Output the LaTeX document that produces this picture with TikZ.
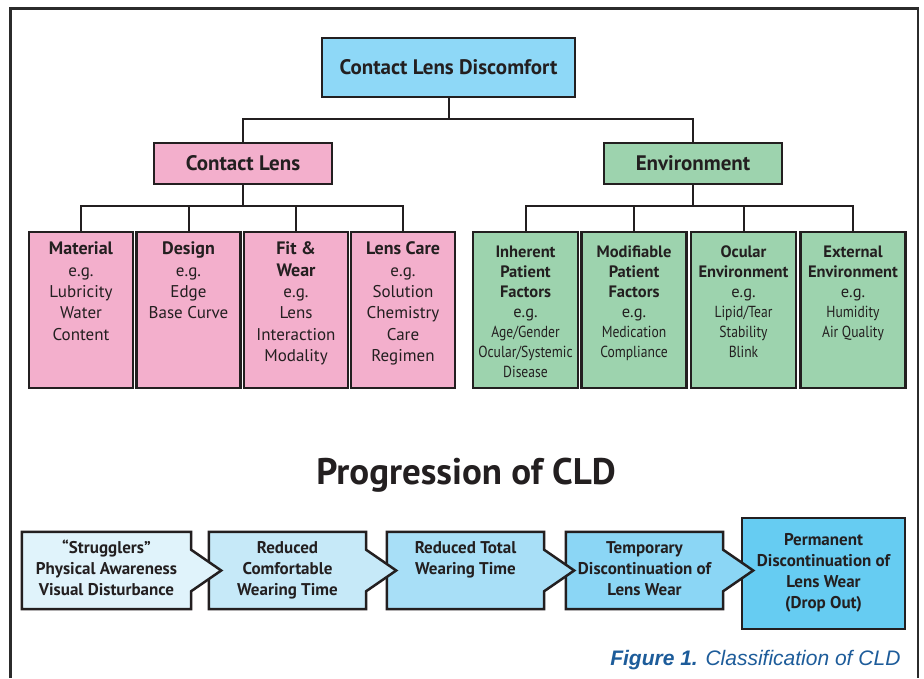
\documentclass[tikz,border=0pt]{standalone}
\usepackage{fontspec}
\setmainfont{PT Sans}
\newfontfamily\narrowfont[FakeStretch=0.85]{PT Sans}
\newfontfamily\capfont{Liberation Sans}
\usetikzlibrary{backgrounds}

\definecolor{inkgray}{HTML}{231F20}
\definecolor{framegray}{HTML}{2B2B2B}
\definecolor{topblue}{HTML}{8ED8F7}
\definecolor{lenspink}{HTML}{F3AFCC}
\definecolor{envgreen}{HTML}{9DD3AE}
\definecolor{stageone}{HTML}{E0F3FB}
\definecolor{stagetwo}{HTML}{C6E9F8}
\definecolor{stagethree}{HTML}{A8DFF7}
\definecolor{stagefour}{HTML}{8BD6F5}
\definecolor{stagefive}{HTML}{66CCF2}
\definecolor{captionblue}{HTML}{1D5C9A}

% text block with fixed size, written from the top
\newcommand{\cellbody}[4]{\parbox[c][#2][t]{#1}{\centering\vspace*{#3}\strut#4}}
\newcommand{\cellhead}[1]{{\bfseries\fontsize{18}{21.3}\selectfont #1}}

\tikzset{
  outline/.style={draw=inkgray, line width=2.5pt},
  link/.style={draw=inkgray, line width=2pt},
  headbox/.style={outline, minimum height=41pt, minimum width=178pt, text=inkgray,
                  font=\bfseries\fontsize{21}{25}\selectfont},
  lensbox/.style={outline, fill=lenspink, inner sep=0pt, text=inkgray,
                  font=\fontsize{17}{21.3}\selectfont},
  envbox/.style={outline, fill=envgreen, inner sep=0pt, text=inkgray,
                 font=\fontsize{16.5}{20}\selectfont},
  stagebox/.style={inner sep=0pt, text=inkgray, font=\bfseries\fontsize{17}{21}\selectfont}
}

\begin{document}
\begin{tikzpicture}[x=1pt, y=-1pt]
  \useasboundingbox (0,0) rectangle (924,678);

  % frame
  \draw[draw=framegray, line width=2.5pt] (10.7,678) -- (10.7,8.3) -- (918,8.3) -- (918,678);

  % classification tree
  \node[headbox, fill=topblue, minimum width=253pt, minimum height=59pt] (cld) at (448.5,67.5) {Contact Lens Discomfort};
  \node[headbox, fill=lenspink] (lens) at (243,163.5) {Contact Lens};
  \node[headbox, fill=envgreen] (env) at (693,163.5) {Environment};

  \node[lensbox] (material) at (81,310) {\cellbody{104pt}{156pt}{8pt}{\cellhead{Material}\\e.g.\\Lubricity\\Water\\Content}};
  \node[lensbox] (design) at (188.5,310) {\cellbody{104pt}{156pt}{8pt}{\cellhead{Design}\\e.g.\\Edge\\Base Curve}};
  \node[lensbox] (fitwear) at (296,310) {\cellbody{104pt}{156pt}{8pt}{\cellhead{Fit \&\\Wear}\\e.g.\\Lens\\Interaction\\Modality}};
  \node[lensbox] (lenscare) at (403,310) {\cellbody{104pt}{156pt}{8pt}{\cellhead{Lens Care}\\e.g.\\Solution\\Chemistry\\Care\\Regimen}};

  \node[envbox] (inherent) at (525.5,310) {\cellbody{105pt}{156pt}{11pt}{{\bfseries Inherent\\Patient\\Factors}\\e.g.\\{\narrowfont\fontsize{16}{20}\selectfont Age/Gender\\Ocular/Systemic\\Disease}}};
  \node[envbox] (modifiable) at (634,310) {\cellbody{105pt}{156pt}{11pt}{{\bfseries Modifiable\\Patient\\Factors}\\e.g.\\{\narrowfont\fontsize{16}{20}\selectfont Medication\\Compliance}}};
  \node[envbox] (ocular) at (743.5,310) {\cellbody{105pt}{156pt}{11pt}{{\bfseries Ocular\\Environment}\\e.g.\\{\narrowfont\fontsize{16}{20}\selectfont Lipid/Tear\\Stability\\Blink}}};
  \node[envbox] (external) at (853,310) {\cellbody{105pt}{156pt}{11pt}{{\bfseries External\\Environment}\\e.g.\\{\narrowfont\fontsize{16}{20}\selectfont Humidity\\Air Quality}}};

  \draw[link] (cld.south) -- ++(0,21) -| (lens.north);
  \draw[link] (cld.south) -- ++(0,21) -| (env.north);
  \foreach \k in {material,design,fitwear,lenscare}
    \draw[link] (lens.south) -- ++(0,21) -| (\k.north);
  \foreach \k in {inherent,modifiable,ocular,external}
    \draw[link] (env.south) -- ++(0,21) -| (\k.north);

  % progression
  \node[anchor=base, text=inkgray, font=\bfseries\fontsize{37}{42}\selectfont] (progress) at (466,484) {Progression of CLD};

  \node[stagebox] (s1) at (106.5,570.5) {\cellbody{169pt}{77pt}{6.3pt}{“Strugglers”\\Physical Awareness\\Visual Disturbance}};
  \node[stagebox] (s2) at (287.5,570.5) {\cellbody{157pt}{77pt}{6.3pt}{Reduced\\Comfortable\\Wearing Time}};
  \node[stagebox] (s3) at (465.5,570.5) {\cellbody{157pt}{77pt}{6.3pt}{Reduced Total\\Wearing Time}};
  \node[stagebox] (s4) at (644.5,570.5) {\cellbody{157pt}{77pt}{6.3pt}{Temporary\\Discontinuation of\\Lens Wear}};
  \node[stagebox] (s5) at (823.5,573.5) {\cellbody{163pt}{111pt}{12.3pt}{Permanent\\Discontinuation of\\Lens Wear\\(Drop Out)}};

  \begin{pgfonlayer}{background}
    \fill[white] (0,0) rectangle (924,678);
    \draw[outline, fill=stagefive] (s5.north west) rectangle (s5.south east);
    \foreach \s/\c in {s4/stagefour,s3/stagethree,s2/stagetwo,s1/stageone}
      \draw[outline, fill=\c] (\s.north west) -- (\s.north east) -- ([yshift=-18pt]\s.north east)
        -- ([xshift=30pt]\s.east) -- ([yshift=18pt]\s.south east) -- (\s.south east) -- (\s.south west) -- cycle;
  \end{pgfonlayer}

  \node[anchor=base east, text=captionblue, font=\capfont\itshape\fontsize{21}{25}\selectfont] (caption) at (904,665) {\textbf{Figure 1.} Classification of CLD};
\end{tikzpicture}
\end{document}
